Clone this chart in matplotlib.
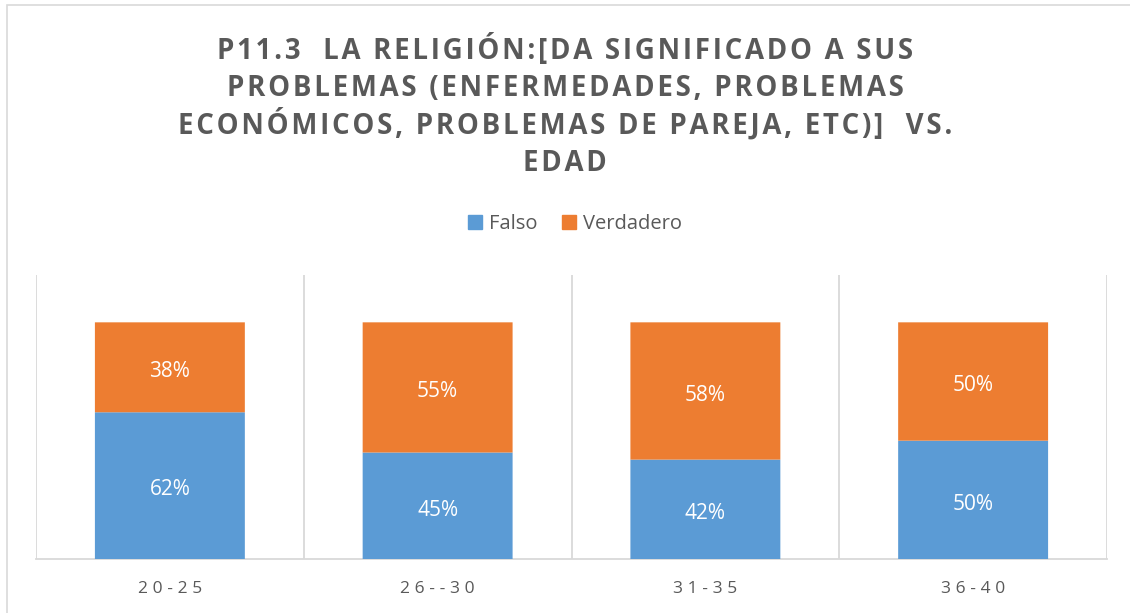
import matplotlib
matplotlib.use("Agg")
import matplotlib.pyplot as plt
from matplotlib.patches import Rectangle, Patch

categories = ["20-25", "26--30", "31-35", "36-40"]
falso = [0.62, 0.45, 0.42, 0.50]
verdadero = [0.38, 0.55, 0.58, 0.50]
series_names = ["Falso", "Verdadero"]
title_lines = ["P11.3  LA RELIGIÓN:[DA SIGNIFICADO A SUS",
               "PROBLEMAS (ENFERMEDADES, PROBLEMAS",
               "ECONÓMICOS, PROBLEMAS DE PAREJA, ETC)]  VS.",
               "EDAD"]

BLUE = "#5B9BD5"
ORANGE = "#ED7D31"
GREY = "#595959"
GRID = "#D9D9D9"
FAM = ["Open Sans", "DejaVu Sans"]

def spaced(s, sep="\u2009"):
    return sep.join(list(s))

fig = plt.figure(figsize=(11.3, 6.13), dpi=100)
fig.patches.append(Rectangle((7/1130, -0.1), 1.2, 1 - 4.5/613 + 0.1, transform=fig.transFigure,
                             fill=False, edgecolor=GRID, linewidth=1.2))

ax = fig.add_axes([36/1130, 1 - 559/613, (1107 - 36)/1130, (559 - 275)/613])
x = list(range(len(categories)))
w = 0.56
b1 = ax.bar(x, falso, width=w, color=BLUE, label=series_names[0], zorder=3, snap=False)
b2 = ax.bar(x, verdadero, width=w, bottom=falso, color=ORANGE, label=series_names[1], zorder=3, snap=False)

for rects, vals, bots in ((b1, falso, [0]*4), (b2, verdadero, falso)):
    for r, v, b in zip(rects, vals, bots):
        ax.text(r.get_x() + r.get_width()/2, b + v/2 - 0.018, f"{round(v*100)}%",
                ha="center", va="center", color="white", fontsize=15, family=FAM, zorder=4)

ax.set_xlim(-0.5, len(categories) - 0.5)
ax.set_ylim(0, 1.2)
for xb in [i - 0.5 for i in range(len(categories) + 1)]:
    ax.axvline(xb, color=GRID, linewidth=1.3, zorder=1)
for s in ["top", "right", "left"]:
    ax.spines[s].set_visible(False)
ax.spines["bottom"].set_color(GRID)
ax.spines["bottom"].set_linewidth(1.3)
ax.set_yticks([])
ax.set_xticks(x)
ax.set_xticklabels([spaced(c, "\u2009\u200a") for c in categories], family=FAM, fontsize=12.5, color=GREY)
ax.tick_params(axis="x", length=0, pad=16)

for i, line in enumerate(title_lines):
    fig.text(0.5, 1 - (58.5 + 37.5*i)/613, spaced(line, "\u200a"), ha="center", va="baseline",
             fontsize=19.9, fontweight="bold", color=GREY, family=FAM)

handles = [Patch(color=BLUE), Patch(color=ORANGE)]
leg = fig.legend(handles, series_names, loc="center", bbox_to_anchor=(575/1130, 1 - 224/613),
                 ncol=2, frameon=False, prop={"family": FAM, "size": 14.5},
                 handlelength=0.7, handleheight=0.7, handletextpad=0.35, columnspacing=1.2,
                 labelcolor=GREY)

fig.savefig("out.png", dpi=100, facecolor="white")
